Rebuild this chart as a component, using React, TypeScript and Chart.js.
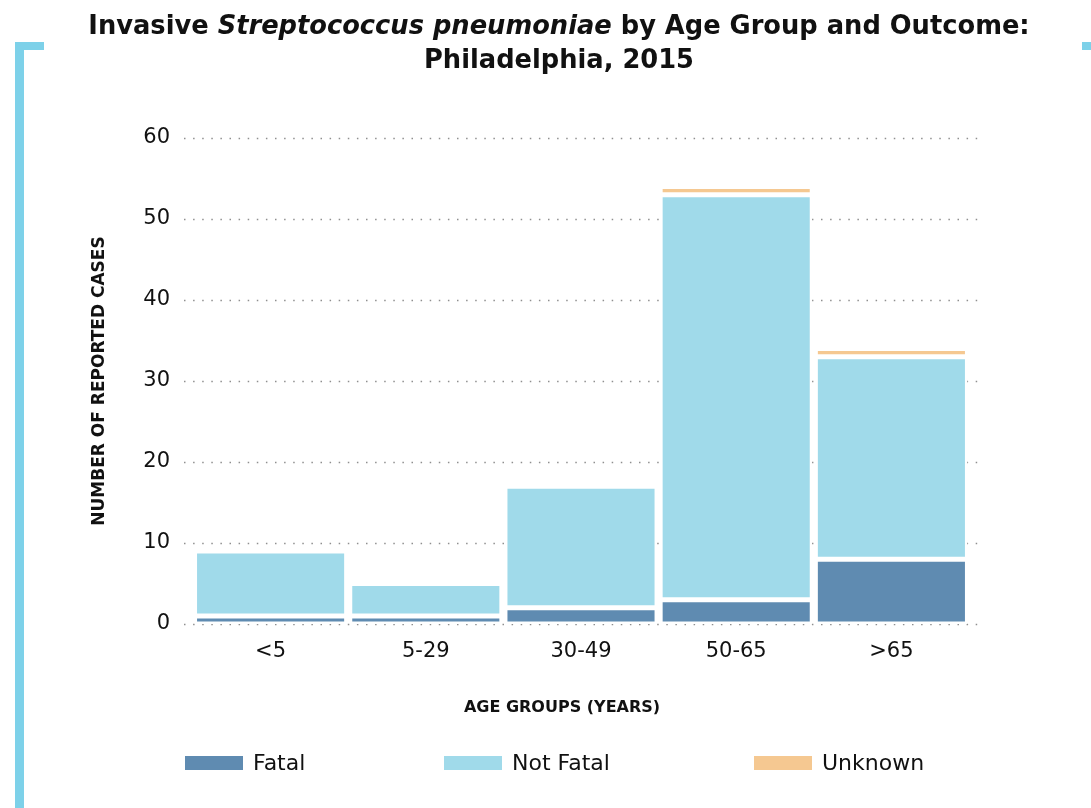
import React, { useEffect, useRef } from "react";
import { Chart, registerables } from "chart.js";

Chart.register(...registerables);

const categories = ["<5", "5-29", "30-49", "50-65", ">65"];
const fatal = [1, 1, 2, 3, 8];
const notFatal = [8, 4, 15, 50, 25];
const unknown = [0, 0, 0, 1, 1];
const yTicks = [0, 10, 20, 30, 40, 50, 60];

const seriesNames = ["Fatal", "Not Fatal", "Unknown"];
const seriesColors = ["#5f8bb1", "#a0daea", "#f5c891"];

const titleLine1 = [
  { text: "Invasive ", italic: false },
  { text: "Streptococcus pneumoniae", italic: true },
  { text: " by Age Group and Outcome:", italic: false },
];
const titleLine2 = "Philadelphia, 2015";
const xTitle = "AGE GROUPS (YEARS)";
const yTitle = "NUMBER OF REPORTED CASES";

const FONT = "'DejaVu Sans', sans-serif";

const decorPlugin = {
  id: "decor",
  beforeDatasetsDraw(chart: any) {
    const { ctx, chartArea } = chart;
    const y = chart.scales.y;
    ctx.save();
    ctx.strokeStyle = "#8f8f8f";
    ctx.lineWidth = 1.5;
    ctx.setLineDash([1.5, 7.6]);
    yTicks.forEach((t) => {
      const py = Math.round(y.getPixelForValue(t)) + 0.5;
      ctx.beginPath();
      ctx.moveTo(chartArea.left - 9, py);
      ctx.lineTo(chartArea.right + 14, py);
      ctx.stroke();
    });
    ctx.restore();
  },
  afterDraw(chart: any) {
    const { ctx } = chart;
    ctx.save();
    // bracket decoration
    ctx.fillStyle = "#7dd1e9";
    ctx.fillRect(15, 42, 9, 766);
    ctx.fillRect(15, 42, 29, 8);
    ctx.fillRect(1082, 42, 9, 8);

    // title
    ctx.fillStyle = "#111";
    ctx.textBaseline = "middle";
    let size = 24;
    const fontFor = (it: boolean, s: number) =>
      `${it ? "italic " : ""}bold ${s}px ${FONT}`;
    const measure = (s: number) =>
      titleLine1.reduce((acc, p) => {
        ctx.font = fontFor(p.italic, s);
        return acc + ctx.measureText(p.text).width;
      }, 0);
    const w0 = measure(size);
    size = Math.min(27, Math.max(20, (size * 942) / w0));
    const w = measure(size);
    let x = 559 - w / 2;
    ctx.textAlign = "left";
    titleLine1.forEach((p) => {
      ctx.font = fontFor(p.italic, size);
      ctx.fillText(p.text, x, 27);
      x += ctx.measureText(p.text).width;
    });
    ctx.font = fontFor(false, size);
    ctx.textAlign = "center";
    ctx.fillText(titleLine2, 559, 61);

    // x axis title
    ctx.font = `bold 16px ${FONT}`;
    ctx.fillText(xTitle, 562, 708);

    // legend
    const boxX = [185, 444, 754];
    ctx.font = `22px ${FONT}`;
    ctx.textAlign = "left";
    chart.data.datasets.forEach((ds: any, i: number) => {
      ctx.fillStyle = ds.backgroundColor;
      ctx.fillRect(boxX[i], 756, 58, 14);
      ctx.fillStyle = "#111";
      ctx.fillText(ds.label, boxX[i] + 68, 764);
    });
    ctx.restore();
  },
};

export default function App() {
  const ref = useRef<HTMLCanvasElement | null>(null);
  useEffect(() => {
    if (!ref.current) return;
    const datasets = [fatal, notFatal, unknown].map((d, i) => ({
      label: seriesNames[i],
      data: d,
      backgroundColor: seriesColors[i],
      borderColor: "#ffffff",
      borderWidth: 2.5,
      borderSkipped: false as any,
      barPercentage: 0.98,
      categoryPercentage: 1,
      stack: "s",
    }));
    const chart = new Chart(ref.current, {
      type: "bar",
      data: { labels: categories, datasets },
      options: {
        animation: false,
        responsive: true,
        maintainAspectRatio: false,
        layout: { padding: { left: 30, right: 1, top: 138, bottom: 66 } },
        plugins: {
          legend: { display: false },
          tooltip: { enabled: false },
          title: { display: false },
        },
        scales: {
          x: {
            stacked: true,
            grid: { display: false, drawTicks: false },
            border: { display: false },
            ticks: {
              padding: 15,
              color: "#111",
              font: { family: FONT, size: 21 },
            },
            afterFit: (s: any) => {
              s.height = 118;
            },
          },
          y: {
            stacked: true,
            min: 0,
            max: 60,
            grid: { display: false, drawTicks: false },
            border: { display: false },
            ticks: {
              stepSize: 10,
              padding: 23,
              color: "#111",
              font: { family: FONT, size: 21 },
            },
            title: {
              display: true,
              text: yTitle,
              color: "#111",
              font: { family: FONT, size: 17, weight: "bold" },
              padding: { top: 59, bottom: 0 },
            },
            afterFit: (s: any) => {
              s.width = 163;
            },
          },
          yR: {
            type: "linear",
            position: "right",
            display: true,
            grid: { display: false, drawTicks: false },
            border: { display: false },
            ticks: { display: false },
            afterFit: (s: any) => {
              s.width = 121;
            },
          },
        },
      },
      plugins: [decorPlugin],
    });
    return () => chart.destroy();
  }, []);
  return (
    <div
      style={{
        position: "absolute",
        left: 0,
        top: 0,
        width: 1091,
        height: 808,
        background: "#fff",
      }}
    >
      <canvas ref={ref} />
    </div>
  );
}
